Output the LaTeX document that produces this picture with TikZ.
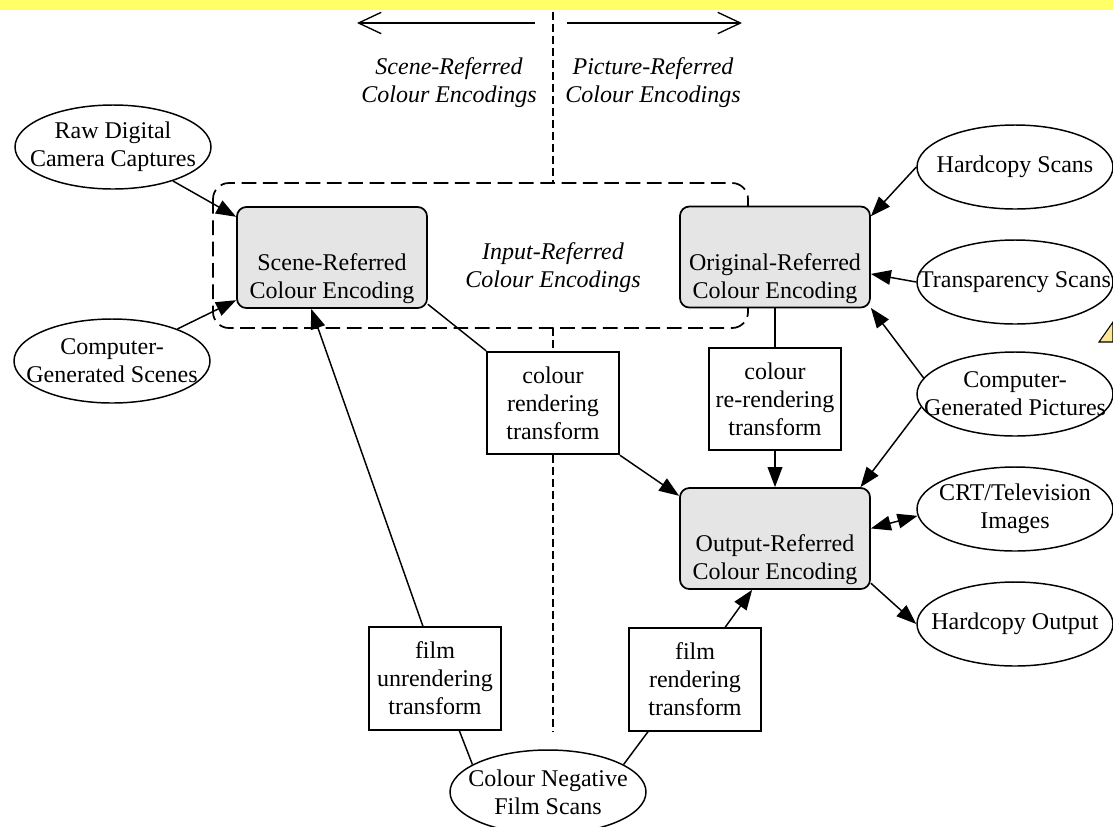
\documentclass[tikz,border=0pt]{standalone}
\usepackage{fontspec}
\setmainfont{Liberation Serif}
\usetikzlibrary{arrows.meta,shapes.geometric}
\definecolor{banner}{RGB}{255,255,102}
\definecolor{notefill}{RGB}{250,230,150}

\begin{document}
\begin{tikzpicture}[x=0.75pt, y=-0.75pt, >={Triangle[length=15pt,width=11pt]},
  every node/.style={font=\fontsize{18}{21}\selectfont},
  ell/.style={draw, ellipse, line width=1.1pt, minimum width=147pt, minimum height=63pt,
    inner xsep=-30pt, inner ysep=0pt, align=center},
  enc/.style={draw, line width=1.3pt, fill=black!10, rounded corners=7pt,
    minimum width=142.5pt, minimum height=75.75pt},
  enctext/.style={align=center, yshift=-16pt},
  xform/.style={draw, line width=1.3pt, minimum width=99pt, minimum height=77pt, align=center},
  link/.style={line width=1.1pt},
  region/.style={font=\fontsize{18}{21}\selectfont\itshape, align=center},
  divide/.style={line width=1pt, dash pattern=on 6pt off 3pt},
  groupbox/.style={line width=1.3pt, dash pattern=on 11pt off 5pt, rounded corners=12pt}]
  \useasboundingbox (0,0) rectangle (1113,826);

  % Banner strip and note marker
  \fill[banner] (0,0) rectangle (1113,10);
  \filldraw[fill=notefill, line width=0.8pt] (1099,342) -- (1113,322) -- (1113,342) -- cycle;

  % Dividing line and direction arrows
  \coordinate (divtop) at (553,12);
  \coordinate (divbot) at (553,732);
  \draw[line width=1pt, -{Straight Barb[length=17pt,width=16pt]}] (535,23) -- (357,23);
  \draw[line width=1pt, -{Straight Barb[length=17pt,width=16pt]}] (567,23) -- (742,23);
  \node[region] (sceneref) at (449,83) {Scene-Referred\\Colour Encodings};
  \node[region] (pictref) at (653,83) {Picture-Referred\\Colour Encodings};

  % Input-referred group
  \draw[groupbox] (213,183) rectangle (748,328);
  \node[region] (inref) at (553,268) {Input-Referred\\Colour Encodings};

  % Encodings
  \node[enc, label={[enctext]center:Scene-Referred\\Colour Encoding}] (scene) at (332,257.5) {};
  \node[enc, label={[enctext]center:Original-Referred\\Colour Encoding}] (orig) at (775,257) {};
  \node[enc, label={[enctext]center:Output-Referred\\Colour Encoding}] (outp) at (775,538.5) {};

  % Transforms
  \node[xform] (crt) at (553,403) {colour\\rendering\\transform};
  \node[xform] (rrt) at (775,399) {colour\\re-rendering\\transform};
  \node[xform] (fut) at (435,678.5) {film\\unrendering\\transform};
  \node[xform] (frt) at (695,679.5) {film\\rendering\\transform};

  % Sources and outputs
  \node[ell] (raw) at (113,147) {Raw Digital\\Camera Captures};
  \node[ell] (cgs) at (112,361) {Computer-\\Generated Scenes};
  \node[ell] (hcs) at (1015,167) {Hardcopy Scans};
  \node[ell] (tsc) at (1015,282) {Transparency Scans};
  \node[ell] (cgp) at (1015,394) {Computer-\\Generated Pictures};
  \node[ell] (crtv) at (1015,509) {CRT/Television\\Images};
  \node[ell] (hco) at (1015,624) {Hardcopy Output};
  \node[ell] (cns) at (548,792) {Colour Negative\\Film Scans};

  % Dividing line segments
  \draw[divide] (divtop) -- (553,183);
  \draw[divide] (553,328) -- (crt.north);
  \draw[divide] (crt.south) -- (divbot);

  % Connectors
  \draw[link, ->] (raw) -- (scene.157);
  \draw[link, ->] (cgs) -- (scene.204);
  \draw[link, ->] (fut.103) -- (scene.248);
  \draw[link] (scene.-26) -- (crt.north west);
  \draw[link, ->] (crt.south east) -- (outp.156);
  \draw[link] (orig.south) -- (rrt.north);
  \draw[link, ->] (rrt.south) -- (outp.north);
  \draw[link, ->] (hcs.west) -- (orig.23);
  \draw[link, ->] (tsc.west) -- (orig.-10);
  \draw[link, ->] (cgp.170) -- (orig.-28);
  \draw[link, ->] (cgp.188) -- (outp.31);
  \draw[link, <->] (outp.6) -- (crtv.184);
  \draw[link, ->] (outp.-25) -- (hco.west);
  \draw[link, ->] (frt.60) -- (outp.246);
  \draw[link] (cns.160) -- (fut.-65);
  \draw[link] (cns.20) -- (frt.228);
\end{tikzpicture}
\end{document}
